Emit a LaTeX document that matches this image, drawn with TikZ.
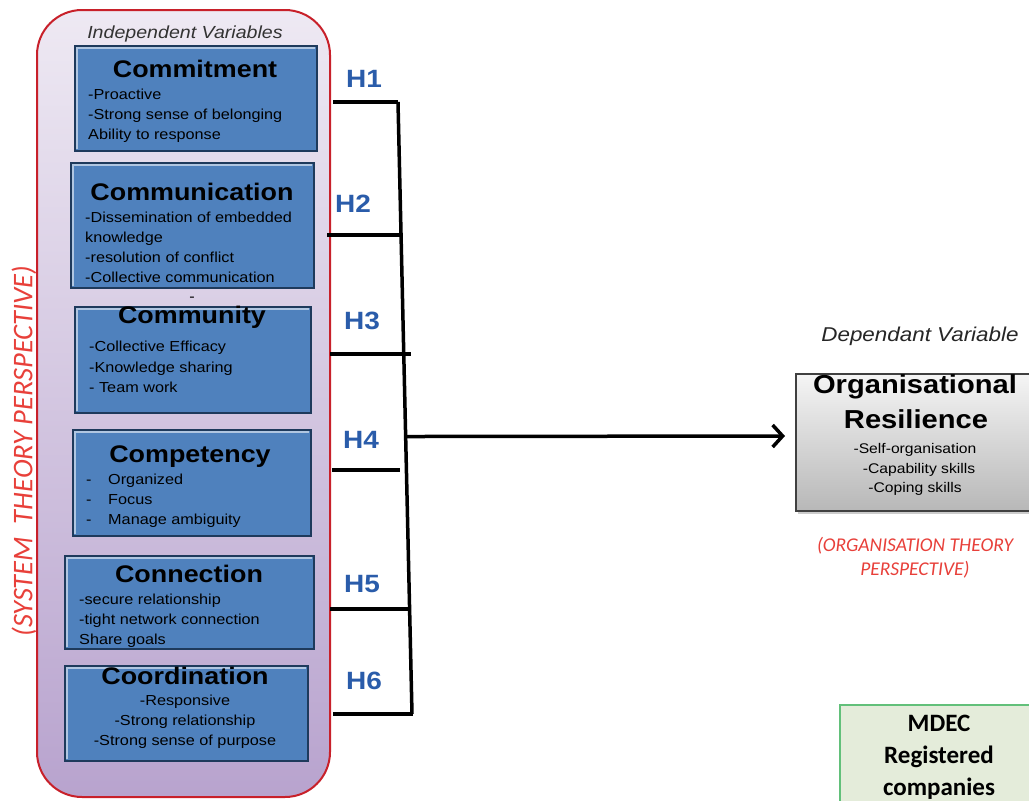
\documentclass[tikz,border=0pt]{standalone}
\usepackage{fontspec}
\setmainfont{Liberation Sans}[FakeStretch=1.12]
\newfontfamily\calib{Carlito}
\usetikzlibrary{arrows.meta,shadows,calc}
\definecolor{boxblue}{HTML}{4F81BD}
\definecolor{boxdark}{HTML}{1E3A5C}
\definecolor{hblue}{HTML}{2A5CAA}
\definecolor{redtxt}{HTML}{E8403A}
\definecolor{redline}{HTML}{C8202A}
\definecolor{lavtop}{HTML}{EEE9F3}
\definecolor{lavbot}{HTML}{B8A3CE}
\definecolor{mdecfill}{HTML}{E4ECDA}
\definecolor{mdecline}{HTML}{62C07A}
\tikzset{
  bluebox/.style={fill=boxblue, draw=boxdark, line width=1.5pt, inner sep=0pt,
    drop shadow={shadow xshift=1.5pt, shadow yshift=-1.5pt, opacity=0.35}},
  title/.style={font=\bfseries\fontsize{24}{28}\selectfont, anchor=base, inner sep=0pt},
  body/.style={font=\fontsize{14.5}{18}\selectfont, anchor=base west, inner sep=0pt},
  bodyc/.style={font=\fontsize{14.5}{18}\selectfont, anchor=base, inner sep=0pt},
  hlab/.style={font=\bfseries\fontsize{25}{28}\selectfont, text=hblue, anchor=base, inner sep=0pt},
  conn/.style={line width=3.5pt, black},
}
\begin{document}
\begin{tikzpicture}[x=1pt,y=-1pt]
\useasboundingbox (0,0) rectangle (1029,801);
\clip (0,0) rectangle (1029,801);
\fill[white] (0,0) rectangle (1029,801);

% container
\draw[redline, line width=2pt, rounded corners=45pt, top color=lavtop, bottom color=lavbot] (37,10) rectangle (330,797);
\node[font=\itshape\fontsize{17.5}{20}\selectfont, anchor=base, inner sep=0pt, text=black!80] (iv) at (185,38) {Independent Variables};
\node[font=\calib\itshape\fontsize{28.5}{30}\selectfont, text=redtxt, rotate=90, inner sep=0pt] (sys) at (24,451) {(SYSTEM\ \ THEORY PERSPECTIVE)};

% blue boxes
\node[bluebox, anchor=north west, minimum width=242pt, minimum height=105pt] (b1) at (74,45) {};
\node[bluebox, anchor=north west, minimum width=243pt, minimum height=125pt] (b2) at (70,162) {};
\node[bluebox, anchor=north west, minimum width=236pt, minimum height=106pt] (b3) at (74,306) {};
\node[bluebox, anchor=north west, minimum width=238pt, minimum height=106pt] (b4) at (72,429) {};
\node[bluebox, anchor=north west, minimum width=249pt, minimum height=93pt] (b5) at (64,555) {};
\node[bluebox, anchor=north west, minimum width=243pt, minimum height=95pt] (b6) at (64,665) {};
% bevel highlights
\foreach \b in {b1,b2,b3,b4,b5,b6}
  \draw[white!55!boxblue, line width=1.5pt] ([xshift=3pt,yshift=3pt]\b.south west) -- ([xshift=3pt,yshift=-3pt]\b.north west) -- ([xshift=-3pt,yshift=-3pt]\b.north east);

% Commitment
\node[title] (t1) at (195,77) {Commitment};
\foreach \t [count=\i] in {-Proactive,-Strong sense of belonging,Ability to response}
  \node[body] (l1\i) at (88,80+19.7*\i) {\t};
% Communication
\node[title] (t2) at (192,200) {Communication};
\foreach \t [count=\i] in {-Dissemination of embedded,knowledge,-resolution of conflict,-Collective communication}
  \node[body] (l2\i) at (85,202+20*\i) {\t};
\node[bodyc] (dash) at (192,301) {-};
% Community
\node[title] (t3) at (192,323) {Community};
\foreach \t [count=\i] in {-Collective Efficacy,-Knowledge sharing,- Team work}
  \node[body] (l3\i) at (89,331+20.5*\i) {\t};
% Competency
\node[title] (t4) at (190,462) {Competency};
\foreach \t [count=\i] in {Organized,Focus,Manage ambiguity}{
  \node[body] (d4\i) at (86,464+20*\i) {-};
  \node[body] (l4\i) at (108,464+20*\i) {\t};
}
% Connection
\node[title] (t5) at (189,582) {Connection};
\foreach \t [count=\i] in {-secure relationship,-tight network connection,Share goals}
  \node[body] (l5\i) at (79,584+20*\i) {\t};
% Coordination
\node[title] (t6) at (185,684) {Coordination};
\foreach \t [count=\i] in {-Responsive,-Strong relationship,-Strong sense of purpose}
  \node[bodyc] (l6\i) at (185,685+20*\i) {\t};

% hypotheses labels
\node[hlab] (H1) at (364,87) {H1};
\node[hlab] (H2) at (353,212) {H2};
\node[hlab] (H3) at (362,329) {H3};
\node[hlab] (H4) at (361,448) {H4};
\node[hlab] (H5) at (362,592) {H5};
\node[hlab] (H6) at (364,689) {H6};

% connectors
\coordinate (s1) at (398,102);
\coordinate (s6) at (412,714);
\coordinate (j) at ($(s1)!0.5466!(s6)$);
\draw[conn] (s1) -- (s6);
\coordinate (h1a) at (333,102); \coordinate (h1b) at (398,102);
\coordinate (h2a) at (327,235); \coordinate (h2b) at (401,235);
\coordinate (h3a) at (330,354); \coordinate (h3b) at (411,354);
\coordinate (h4a) at (332,470); \coordinate (h4b) at (400,470);
\coordinate (h5a) at (330,609); \coordinate (h5b) at (409,609);
\coordinate (h6a) at (333,714); \coordinate (h6b) at (413,714);
\foreach \i in {1,...,6} \draw[conn] (h\i a) -- (h\i b);

% dependent variable
\node[font=\itshape\fontsize{20}{22}\selectfont, anchor=base, inner sep=0pt, text=black!85] (dv) at (920,341) {Dependant Variable};
\node[anchor=north west, minimum width=240pt, minimum height=137pt, draw=black!75, line width=1.5pt,
  top color=white!96!black, bottom color=black!28, inner sep=0pt,
  drop shadow={shadow xshift=2pt, shadow yshift=-3pt, opacity=0.4}] (org) at (795,373) {};
\node[title, font=\bfseries\fontsize{26}{28}\selectfont] (o1) at (915,393) {Organisational};
\node[title, font=\bfseries\fontsize{26}{28}\selectfont] (o2) at (916,428) {Resilience};
\node[bodyc, font=\fontsize{14}{16}\selectfont] (o3) at (915,453) {-Self-organisation};
\node[bodyc, font=\fontsize{14}{16}\selectfont] (o4) at (919,473) {-Capability skills};
\node[bodyc, font=\fontsize{14}{16}\selectfont] (o5) at (915,492) {-Coping skills};
\draw[conn, -{Straight Barb[length=10pt,width=22pt]}] (j) -- (785,436);

\node[font=\calib\itshape\fontsize{19.5}{21}\selectfont, text=redtxt, anchor=base, inner sep=0pt] (ot1) at (915,551) {(ORGANISATION THEORY};
\node[font=\calib\itshape\fontsize{19.5}{21}\selectfont, text=redtxt, anchor=base, inner sep=0pt] (ot2) at (915,575) {PERSPECTIVE)};

% MDEC
\draw[fill=mdecfill, draw=mdecline, line width=1.5pt] (840,705) rectangle (1035,810);
\node[font=\calib\bfseries\fontsize{25}{27}\selectfont, anchor=base, inner sep=0pt] (m1) at (939,731) {MDEC};
\node[font=\calib\bfseries\fontsize{25}{27}\selectfont, anchor=base, inner sep=0pt] (m2) at (939,763) {Registered};
\node[font=\calib\bfseries\fontsize{25}{27}\selectfont, anchor=base, inner sep=0pt] (m3) at (939,795) {companies};
\end{tikzpicture}
\end{document}
